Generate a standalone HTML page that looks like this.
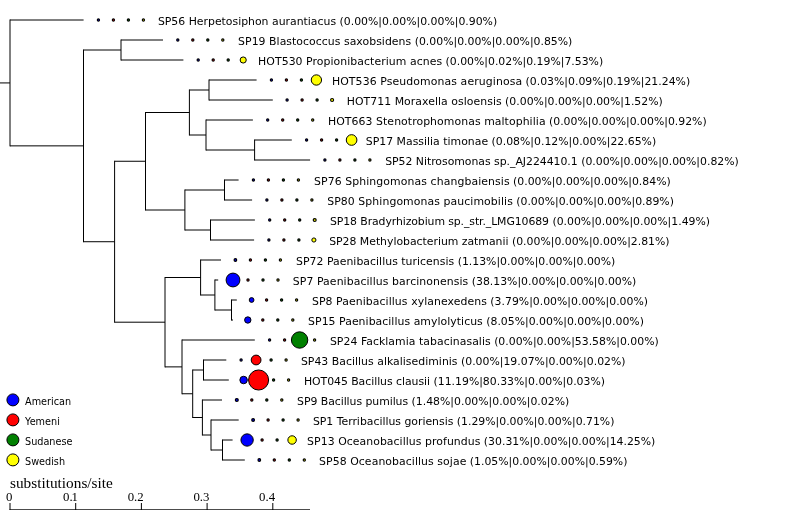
<!DOCTYPE html>
<html lang="en"><head><meta charset="utf-8"><title>Phylogenetic tree</title>
<style>html,body{margin:0;padding:0;background:#fff;}body{width:800px;height:510px;overflow:hidden;}svg{display:block;}</style>
</head><body>
<svg width="800" height="510" viewBox="0 0 800 510">
<defs><filter id="g" filterUnits="userSpaceOnUse" x="0" y="0" width="800" height="510"><feOffset dx="0" dy="0"/></filter></defs>
<path d="M209.00 79.50V100.50M209.00 80.00H256.60M209.00 100.00H272.80M254.60 139.50V160.50M254.60 140.00H291.80M254.60 160.00H310.10M206.00 119.50V150.50M206.00 120.00H252.90M206.00 150.00H254.60M189.40 89.50V135.50M189.40 90.00H209.00M189.40 135.00H206.00M224.50 179.50V200.50M224.50 180.00H238.60M224.50 200.00H252.10M210.50 219.50V240.50M210.50 220.00H254.90M210.50 240.00H254.10M184.90 189.50V230.50M184.90 190.00H224.50M184.90 230.00H210.50M145.50 112.00V210.50M145.50 112.50H189.40M145.50 210.00H184.90M231.50 299.50V320.50M231.50 300.00H236.80M231.50 320.00H233.00M214.90 279.50V310.50M214.90 280.00H218.20M214.90 310.00H231.50M200.60 259.50V295.50M200.60 260.00H221.00M200.60 295.00H214.90M203.50 359.50V380.50M203.50 360.00H226.30M203.50 380.00H228.80M222.50 439.50V460.50M222.50 440.00H232.60M222.50 460.00H244.80M211.00 419.50V450.50M211.00 420.00H238.70M211.00 450.00H222.50M202.40 399.50V435.50M202.40 400.00H222.00M202.40 435.00H211.00M192.70 369.50V418.00M192.70 370.00H203.50M192.70 417.50H202.40M182.00 339.50V394.25M182.00 340.00H254.80M182.00 393.75H192.70M165.00 277.00V367.38M165.00 277.50H200.60M165.00 366.88H182.00M114.60 160.75V322.69M114.60 161.25H145.50M114.60 322.19H165.00M121.00 39.50V60.50M121.00 40.00H163.00M121.00 60.00H183.40M83.50 49.50V242.22M83.50 50.00H121.00M83.50 241.72H114.60M10.00 19.50V146.36M10.00 20.00H83.60M10.00 145.86H83.50M0 82.93H10" fill="none" stroke="#000" stroke-width="1"/>
<circle cx="98.40" cy="20" r="1.10" fill="#0000ff" stroke="#000" stroke-width="1.2"/>
<circle cx="113.40" cy="20" r="1.10" fill="#ff0000" stroke="#000" stroke-width="1.2"/>
<circle cx="128.40" cy="20" r="1.10" fill="#008000" stroke="#000" stroke-width="1.2"/>
<circle cx="143.40" cy="20" r="1.10" fill="#ffff00" stroke="#000" stroke-width="1.2"/>
<circle cx="177.80" cy="40" r="1.10" fill="#0000ff" stroke="#000" stroke-width="1.2"/>
<circle cx="192.80" cy="40" r="1.10" fill="#ff0000" stroke="#000" stroke-width="1.2"/>
<circle cx="207.80" cy="40" r="1.10" fill="#008000" stroke="#000" stroke-width="1.2"/>
<circle cx="222.80" cy="40" r="1.10" fill="#ffff00" stroke="#000" stroke-width="1.2"/>
<circle cx="198.20" cy="60" r="1.10" fill="#0000ff" stroke="#000" stroke-width="1.2"/>
<circle cx="213.20" cy="60" r="1.10" fill="#ff0000" stroke="#000" stroke-width="1.2"/>
<circle cx="228.20" cy="60" r="1.10" fill="#008000" stroke="#000" stroke-width="1.2"/>
<circle cx="243.20" cy="60" r="3.07" fill="#ffff00" stroke="#000" stroke-width="1"/>
<circle cx="271.40" cy="80" r="1.10" fill="#0000ff" stroke="#000" stroke-width="1.2"/>
<circle cx="286.40" cy="80" r="1.10" fill="#ff0000" stroke="#000" stroke-width="1.2"/>
<circle cx="301.40" cy="80" r="1.10" fill="#008000" stroke="#000" stroke-width="1.2"/>
<circle cx="316.40" cy="80" r="5.16" fill="#ffff00" stroke="#000" stroke-width="1"/>
<circle cx="287.10" cy="100" r="1.10" fill="#0000ff" stroke="#000" stroke-width="1.2"/>
<circle cx="302.10" cy="100" r="1.10" fill="#ff0000" stroke="#000" stroke-width="1.2"/>
<circle cx="317.10" cy="100" r="1.10" fill="#008000" stroke="#000" stroke-width="1.2"/>
<circle cx="332.10" cy="100" r="1.48" fill="#ffff00" stroke="#000" stroke-width="1.2"/>
<circle cx="267.70" cy="120" r="1.10" fill="#0000ff" stroke="#000" stroke-width="1.2"/>
<circle cx="282.70" cy="120" r="1.10" fill="#ff0000" stroke="#000" stroke-width="1.2"/>
<circle cx="297.70" cy="120" r="1.10" fill="#008000" stroke="#000" stroke-width="1.2"/>
<circle cx="312.70" cy="120" r="1.10" fill="#ffff00" stroke="#000" stroke-width="1.2"/>
<circle cx="306.60" cy="140" r="1.10" fill="#0000ff" stroke="#000" stroke-width="1.2"/>
<circle cx="321.60" cy="140" r="1.10" fill="#ff0000" stroke="#000" stroke-width="1.2"/>
<circle cx="336.60" cy="140" r="1.10" fill="#008000" stroke="#000" stroke-width="1.2"/>
<circle cx="351.60" cy="140" r="5.33" fill="#ffff00" stroke="#000" stroke-width="1"/>
<circle cx="324.90" cy="160" r="1.10" fill="#0000ff" stroke="#000" stroke-width="1.2"/>
<circle cx="339.90" cy="160" r="1.10" fill="#ff0000" stroke="#000" stroke-width="1.2"/>
<circle cx="354.90" cy="160" r="1.10" fill="#008000" stroke="#000" stroke-width="1.2"/>
<circle cx="369.90" cy="160" r="1.10" fill="#ffff00" stroke="#000" stroke-width="1.2"/>
<circle cx="253.40" cy="180" r="1.10" fill="#0000ff" stroke="#000" stroke-width="1.2"/>
<circle cx="268.40" cy="180" r="1.10" fill="#ff0000" stroke="#000" stroke-width="1.2"/>
<circle cx="283.40" cy="180" r="1.10" fill="#008000" stroke="#000" stroke-width="1.2"/>
<circle cx="298.40" cy="180" r="1.10" fill="#ffff00" stroke="#000" stroke-width="1.2"/>
<circle cx="266.90" cy="200" r="1.10" fill="#0000ff" stroke="#000" stroke-width="1.2"/>
<circle cx="281.90" cy="200" r="1.10" fill="#ff0000" stroke="#000" stroke-width="1.2"/>
<circle cx="296.90" cy="200" r="1.10" fill="#008000" stroke="#000" stroke-width="1.2"/>
<circle cx="311.90" cy="200" r="1.10" fill="#ffff00" stroke="#000" stroke-width="1.2"/>
<circle cx="269.70" cy="220" r="1.10" fill="#0000ff" stroke="#000" stroke-width="1.2"/>
<circle cx="284.70" cy="220" r="1.10" fill="#ff0000" stroke="#000" stroke-width="1.2"/>
<circle cx="299.70" cy="220" r="1.10" fill="#008000" stroke="#000" stroke-width="1.2"/>
<circle cx="314.70" cy="220" r="1.47" fill="#ffff00" stroke="#000" stroke-width="1.2"/>
<circle cx="268.90" cy="240" r="1.10" fill="#0000ff" stroke="#000" stroke-width="1.2"/>
<circle cx="283.90" cy="240" r="1.10" fill="#ff0000" stroke="#000" stroke-width="1.2"/>
<circle cx="298.90" cy="240" r="1.10" fill="#008000" stroke="#000" stroke-width="1.2"/>
<circle cx="313.90" cy="240" r="2.08" fill="#ffff00" stroke="#000" stroke-width="1"/>
<circle cx="235.40" cy="260" r="1.30" fill="#0000ff" stroke="#000" stroke-width="1.2"/>
<circle cx="250.40" cy="260" r="1.10" fill="#ff0000" stroke="#000" stroke-width="1.2"/>
<circle cx="265.40" cy="260" r="1.10" fill="#008000" stroke="#000" stroke-width="1.2"/>
<circle cx="280.40" cy="260" r="1.10" fill="#ffff00" stroke="#000" stroke-width="1.2"/>
<circle cx="233.00" cy="280" r="6.92" fill="#0000ff" stroke="#000" stroke-width="1"/>
<circle cx="248.00" cy="280" r="1.10" fill="#ff0000" stroke="#000" stroke-width="1.2"/>
<circle cx="263.00" cy="280" r="1.10" fill="#008000" stroke="#000" stroke-width="1.2"/>
<circle cx="278.00" cy="280" r="1.10" fill="#ffff00" stroke="#000" stroke-width="1.2"/>
<circle cx="251.60" cy="300" r="2.38" fill="#0000ff" stroke="#000" stroke-width="1"/>
<circle cx="266.60" cy="300" r="1.10" fill="#ff0000" stroke="#000" stroke-width="1.2"/>
<circle cx="281.60" cy="300" r="1.10" fill="#008000" stroke="#000" stroke-width="1.2"/>
<circle cx="296.60" cy="300" r="1.10" fill="#ffff00" stroke="#000" stroke-width="1.2"/>
<circle cx="247.80" cy="320" r="3.18" fill="#0000ff" stroke="#000" stroke-width="1"/>
<circle cx="262.80" cy="320" r="1.10" fill="#ff0000" stroke="#000" stroke-width="1.2"/>
<circle cx="277.80" cy="320" r="1.10" fill="#008000" stroke="#000" stroke-width="1.2"/>
<circle cx="292.80" cy="320" r="1.10" fill="#ffff00" stroke="#000" stroke-width="1.2"/>
<circle cx="269.60" cy="340" r="1.10" fill="#0000ff" stroke="#000" stroke-width="1.2"/>
<circle cx="284.60" cy="340" r="1.10" fill="#ff0000" stroke="#000" stroke-width="1.2"/>
<circle cx="299.60" cy="340" r="8.20" fill="#008000" stroke="#000" stroke-width="1"/>
<circle cx="314.60" cy="340" r="1.10" fill="#ffff00" stroke="#000" stroke-width="1.2"/>
<circle cx="241.10" cy="360" r="1.10" fill="#0000ff" stroke="#000" stroke-width="1.2"/>
<circle cx="256.10" cy="360" r="4.89" fill="#ff0000" stroke="#000" stroke-width="1"/>
<circle cx="271.10" cy="360" r="1.10" fill="#008000" stroke="#000" stroke-width="1.2"/>
<circle cx="286.10" cy="360" r="1.10" fill="#ffff00" stroke="#000" stroke-width="1.2"/>
<circle cx="243.60" cy="380" r="3.75" fill="#0000ff" stroke="#000" stroke-width="1"/>
<circle cx="258.60" cy="380" r="10.04" fill="#ff0000" stroke="#000" stroke-width="1"/>
<circle cx="273.60" cy="380" r="1.10" fill="#008000" stroke="#000" stroke-width="1.2"/>
<circle cx="288.60" cy="380" r="1.10" fill="#ffff00" stroke="#000" stroke-width="1.2"/>
<circle cx="236.80" cy="400" r="1.46" fill="#0000ff" stroke="#000" stroke-width="1.2"/>
<circle cx="251.80" cy="400" r="1.10" fill="#ff0000" stroke="#000" stroke-width="1.2"/>
<circle cx="266.80" cy="400" r="1.10" fill="#008000" stroke="#000" stroke-width="1.2"/>
<circle cx="281.80" cy="400" r="1.10" fill="#ffff00" stroke="#000" stroke-width="1.2"/>
<circle cx="253.10" cy="420" r="1.37" fill="#0000ff" stroke="#000" stroke-width="1.2"/>
<circle cx="268.10" cy="420" r="1.10" fill="#ff0000" stroke="#000" stroke-width="1.2"/>
<circle cx="283.10" cy="420" r="1.10" fill="#008000" stroke="#000" stroke-width="1.2"/>
<circle cx="298.10" cy="420" r="1.10" fill="#ffff00" stroke="#000" stroke-width="1.2"/>
<circle cx="247.10" cy="440" r="6.17" fill="#0000ff" stroke="#000" stroke-width="1"/>
<circle cx="262.10" cy="440" r="1.10" fill="#ff0000" stroke="#000" stroke-width="1.2"/>
<circle cx="277.10" cy="440" r="1.10" fill="#008000" stroke="#000" stroke-width="1.2"/>
<circle cx="292.10" cy="440" r="4.23" fill="#ffff00" stroke="#000" stroke-width="1"/>
<circle cx="259.30" cy="460" r="1.30" fill="#0000ff" stroke="#000" stroke-width="1.2"/>
<circle cx="274.30" cy="460" r="1.10" fill="#ff0000" stroke="#000" stroke-width="1.2"/>
<circle cx="289.30" cy="460" r="1.10" fill="#008000" stroke="#000" stroke-width="1.2"/>
<circle cx="304.30" cy="460" r="1.10" fill="#ffff00" stroke="#000" stroke-width="1.2"/>
<g font-family="'DejaVu Sans', 'Liberation Sans', sans-serif" font-size="10.88" fill="#000" filter="url(#g)">
<text x="157.90" y="24.90" textLength="178.17">SP56 Herpetosiphon aurantiacus</text>
<text x="339.52" y="24.90">(0.00%|0.00%|0.00%|0.90%)</text>
<text x="238.10" y="44.90" textLength="173.12">SP19 Blastococcus saxobsidens</text>
<text x="414.69" y="44.90">(0.00%|0.00%|0.00%|0.85%)</text>
<text x="258.10" y="64.90" textLength="183.97">HOT530 Propionibacterium acnes</text>
<text x="445.53" y="64.90">(0.00%|0.02%|0.19%|7.53%)</text>
<text x="331.90" y="84.90" textLength="190.22">HOT536 Pseudomonas aeruginosa</text>
<text x="525.57" y="84.90">(0.03%|0.09%|0.19%|21.24%)</text>
<text x="346.70" y="104.90" textLength="154.96">HOT711 Moraxella osloensis</text>
<text x="505.11" y="104.90">(0.00%|0.00%|0.00%|1.52%)</text>
<text x="328.00" y="124.90" textLength="217.55">HOT663 Stenotrophomonas maltophilia</text>
<text x="549.00" y="124.90">(0.00%|0.00%|0.00%|0.92%)</text>
<text x="365.80" y="144.90" textLength="122.31">SP17 Massilia timonae</text>
<text x="491.56" y="144.90">(0.08%|0.12%|0.00%|22.65%)</text>
<text x="385.20" y="164.90" textLength="192.51">SP52 Nitrosomonas sp._AJ224410.1</text>
<text x="581.17" y="164.90">(0.00%|0.00%|0.00%|0.82%)</text>
<text x="314.00" y="184.90" textLength="195.62">SP76 Sphingomonas changbaiensis</text>
<text x="513.07" y="184.90">(0.00%|0.00%|0.00%|0.84%)</text>
<text x="327.20" y="204.90" textLength="185.60">SP80 Sphingomonas paucimobilis</text>
<text x="516.26" y="204.90">(0.00%|0.00%|0.00%|0.89%)</text>
<text x="330.00" y="224.90" textLength="218.94">SP18 Bradyrhizobium sp._str._LMG10689</text>
<text x="552.40" y="224.90">(0.00%|0.00%|0.00%|1.49%)</text>
<text x="329.20" y="244.90" textLength="179.28">SP28 Methylobacterium zatmanii</text>
<text x="511.93" y="244.90">(0.00%|0.00%|0.00%|2.81%)</text>
<text x="296.00" y="264.90" textLength="158.20">SP72 Paenibacillus turicensis</text>
<text x="457.65" y="264.90">(1.13%|0.00%|0.00%|0.00%)</text>
<text x="292.80" y="284.90" textLength="175.48">SP7 Paenibacillus barcinonensis</text>
<text x="471.74" y="284.90">(38.13%|0.00%|0.00%|0.00%)</text>
<text x="311.90" y="304.90" textLength="175.00">SP8 Paenibacillus xylanexedens</text>
<text x="490.36" y="304.90">(3.79%|0.00%|0.00%|0.00%)</text>
<text x="308.10" y="324.90" textLength="174.68">SP15 Paenibacillus amylolyticus</text>
<text x="486.23" y="324.90">(8.05%|0.00%|0.00%|0.00%)</text>
<text x="329.90" y="344.90" textLength="160.77">SP24 Facklamia tabacinasalis</text>
<text x="494.14" y="344.90">(0.00%|0.00%|53.58%|0.00%)</text>
<text x="300.90" y="364.90" textLength="156.62">SP43 Bacillus alkalisediminis</text>
<text x="460.97" y="364.90">(0.00%|19.07%|0.00%|0.02%)</text>
<text x="303.90" y="384.90" textLength="126.15">HOT045 Bacillus clausii</text>
<text x="433.50" y="384.90">(11.19%|80.33%|0.00%|0.03%)</text>
<text x="297.10" y="404.90" textLength="111.02">SP9 Bacillus pumilus</text>
<text x="411.57" y="404.90">(1.48%|0.00%|0.00%|0.02%)</text>
<text x="312.90" y="424.90" textLength="140.42">SP1 Terribacillus goriensis</text>
<text x="456.77" y="424.90">(1.29%|0.00%|0.00%|0.71%)</text>
<text x="307.10" y="444.90" textLength="173.29">SP13 Oceanobacillus profundus</text>
<text x="483.86" y="444.90">(30.31%|0.00%|0.00%|14.25%)</text>
<text x="319.10" y="464.90" textLength="147.23">SP58 Oceanobacillus sojae</text>
<text x="469.78" y="464.90">(1.05%|0.00%|0.00%|0.59%)</text>
</g>
<g font-family="'DejaVu Sans', 'Liberation Sans', sans-serif" font-size="9.7" fill="#000" filter="url(#g)">
<circle cx="12.9" cy="399.90" r="6" fill="#0000ff" stroke="#000" stroke-width="1"/>
<text x="25" y="404.50">American</text>
<circle cx="12.9" cy="419.90" r="6" fill="#ff0000" stroke="#000" stroke-width="1"/>
<text x="25" y="424.50">Yemeni</text>
<circle cx="12.9" cy="439.90" r="6" fill="#008000" stroke="#000" stroke-width="1"/>
<text x="25" y="444.50">Sudanese</text>
<circle cx="12.9" cy="459.90" r="6" fill="#ffff00" stroke="#000" stroke-width="1"/>
<text x="25" y="464.50">Swedish</text>
</g>
<g font-family="'Liberation Serif', serif" fill="#000" filter="url(#g)">
<text x="10" y="488" font-size="15.3">substitutions/site</text>
<text x="12.30" y="501" font-size="12.8" text-anchor="end">0</text>
<text x="78.00" y="501" font-size="12.8" text-anchor="end">0.<tspan dx="-1.1">1</tspan></text>
<text x="143.70" y="501" font-size="12.8" text-anchor="end">0.2</text>
<text x="209.40" y="501" font-size="12.8" text-anchor="end">0.3</text>
<text x="275.10" y="501" font-size="12.8" text-anchor="end">0.4</text>
</g>
<path d="M10.00 503V510M75.70 503V510M141.40 503V510M207.10 503V510M272.80 503V510M9.5 509.8H310" fill="none" stroke="#000" stroke-width="1"/>
</svg>
</body></html>
